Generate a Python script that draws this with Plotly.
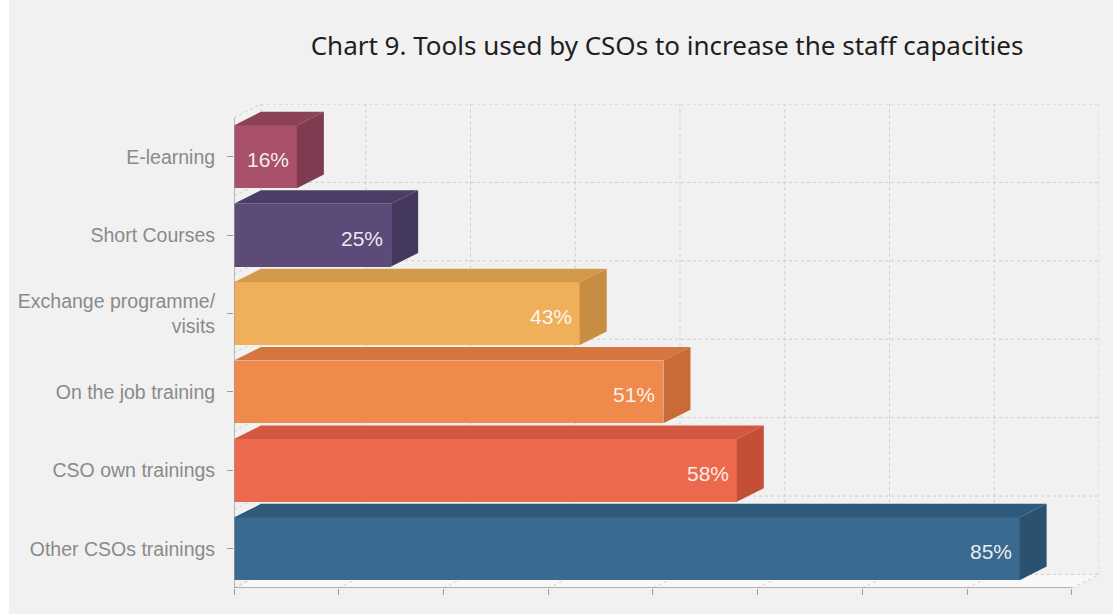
import plotly.graph_objects as go

# ---- data -------------------------------------------------------------
categories = ["E-learning", "Short Courses", "Exchange programme/<br>visits",
              "On the job training", "CSO own trainings", "Other CSOs trainings"]
values = [16, 25, 43, 51, 58, 85]
x_ticks = [10, 20, 30, 40, 50, 60, 70, 80, 90]

front_colors = ["#a9516b", "#5c4a79", "#f0b05b", "#f08a4c", "#ed694d", "#3a6a8f"]
top_colors = ["#8c4257", "#4c3d66", "#d49a4c", "#d4763d", "#d3583f", "#305a7c"]
side_colors = ["#7f3b4f", "#45385e", "#c78d43", "#c86b37", "#c44f38", "#2b5171"]

# ---- pseudo-3D geometry (in axis units) ------------------------------
DX = 2.58      # depth offset along the value axis
DY = 0.173     # depth offset along the category axis
BAR_H = 0.8    # bar thickness
X0 = x_ticks[0]
X1 = x_ticks[-1]

n = len(categories)
pos = [n - 1 - i for i in range(n)]      # first category at the top

fig = go.Figure()

# front faces
fig.add_trace(go.Bar(
    orientation="h", x=values, y=pos, width=BAR_H,
    marker=dict(color=front_colors, line=dict(width=0)),
    hoverinfo="skip", showlegend=False,
))

# top and side faces
for v, y, ct, cs in zip(values, pos, top_colors, side_colors):
    yt = y + BAR_H / 2
    yb = y - BAR_H / 2
    fig.add_trace(go.Scatter(
        x=[X0, v, v + DX, X0 + DX, X0], y=[yt, yt, yt + DY, yt + DY, yt],
        mode="lines", fill="toself", fillcolor=ct, line=dict(width=0),
        hoverinfo="skip", showlegend=False,
    ))
    fig.add_trace(go.Scatter(
        x=[v, v + DX, v + DX, v, v], y=[yb, yb + DY, yt + DY, yt, yb],
        mode="lines", fill="toself", fillcolor=cs, line=dict(width=0),
        hoverinfo="skip", showlegend=False,
    ))

# value labels
for v, y in zip(values, pos):
    fig.add_annotation(
        x=v, y=y, xref="x", yref="y", text=f"{v}%", showarrow=False,
        xanchor="right", yanchor="middle", xshift=-6, yshift=-3,
        font=dict(family="Liberation Sans, Arial, sans-serif", size=21,
                  color="rgba(255,255,255,0.9)"),
    )

# ---- walls, floor and grid ------------------------------------------
grid = dict(color="#cdcdcd", width=1, dash="3px,3px")
shapes = []
ybot = -0.5
ytop = n - 0.5

# floor
shapes.append(dict(
    type="path", xref="x", yref="y", layer="below",
    path=f"M {X0},{ybot} L {X1},{ybot} L {X1 + DX},{ybot + DY} L {X0 + DX},{ybot + DY} Z",
    fillcolor="#f7f8fa", line=dict(width=0),
))
# back-wall verticals and floor diagonals
for t in x_ticks:
    shapes.append(dict(type="line", xref="x", yref="y", layer="below",
                       x0=t + DX, x1=t + DX, y0=ybot + DY, y1=ytop + DY, line=grid))
    shapes.append(dict(type="line", xref="x", yref="y", layer="below",
                       x0=t, x1=t + DX, y0=ybot, y1=ybot + DY, line=grid))
# back-wall horizontals and left-wall diagonals
for k in range(n + 1):
    yk = k - 0.5
    shapes.append(dict(type="line", xref="x", yref="y", layer="below",
                       x0=X0 + DX, x1=X1 + DX, y0=yk + DY, y1=yk + DY, line=grid))
    shapes.append(dict(type="line", xref="x", yref="y", layer="below",
                       x0=X0, x1=X0 + DX, y0=yk, y1=yk + DY, line=grid))
# front axis lines
axis_line = dict(color="#9a9a9a", width=1.3)
shapes.append(dict(type="line", xref="x", yref="y", layer="above",
                   x0=X0, x1=X0, y0=ybot, y1=ytop, line=axis_line))
shapes.append(dict(type="line", xref="x", yref="y", layer="above",
                   x0=X0, x1=X1, y0=ybot, y1=ybot, line=axis_line))
# white strip along the left page edge
shapes.append(dict(type="rect", xref="paper", yref="paper", layer="below",
                   x0=-234 / 865, x1=-225 / 865, y0=-1, y1=2,
                   fillcolor="#ffffff", line=dict(width=0)))

fig.update_layout(
    width=1113, height=614,
    margin=dict(l=234, r=14, t=104, b=26),
    paper_bgcolor="#f1f1f1", plot_bgcolor="rgba(0,0,0,0)",
    shapes=shapes,
    title=dict(
        text="Chart 9. Tools used by CSOs to increase the staff capacities",
        x=667 / 1113, xref="container", xanchor="center",
        y=1 - 46 / 614, yref="container", yanchor="middle",
        font=dict(family="Noto Sans, Open Sans, sans-serif", size=26, color="#1e1e1e"),
    ),
    xaxis=dict(
        range=[X0, X1 + DX], tickvals=x_ticks, showticklabels=False,
        ticks="outside", ticklen=6, tickcolor="#9a9a9a", tickwidth=1.3,
        showgrid=False, zeroline=False, showline=False, fixedrange=True,
    ),
    yaxis=dict(
        range=[ybot, ytop + DY], tickvals=pos, ticktext=categories,
        ticks="outside", ticklen=6, tickcolor="#9a9a9a", tickwidth=1.3,
        ticklabelstandoff=8,
        tickfont=dict(family="Liberation Sans, Arial, sans-serif", size=19.5, color="#8a8a8a"),
        showgrid=False, zeroline=False, showline=False, fixedrange=True,
    ),
    bargap=0,
)

fig.write_html("out.html")
